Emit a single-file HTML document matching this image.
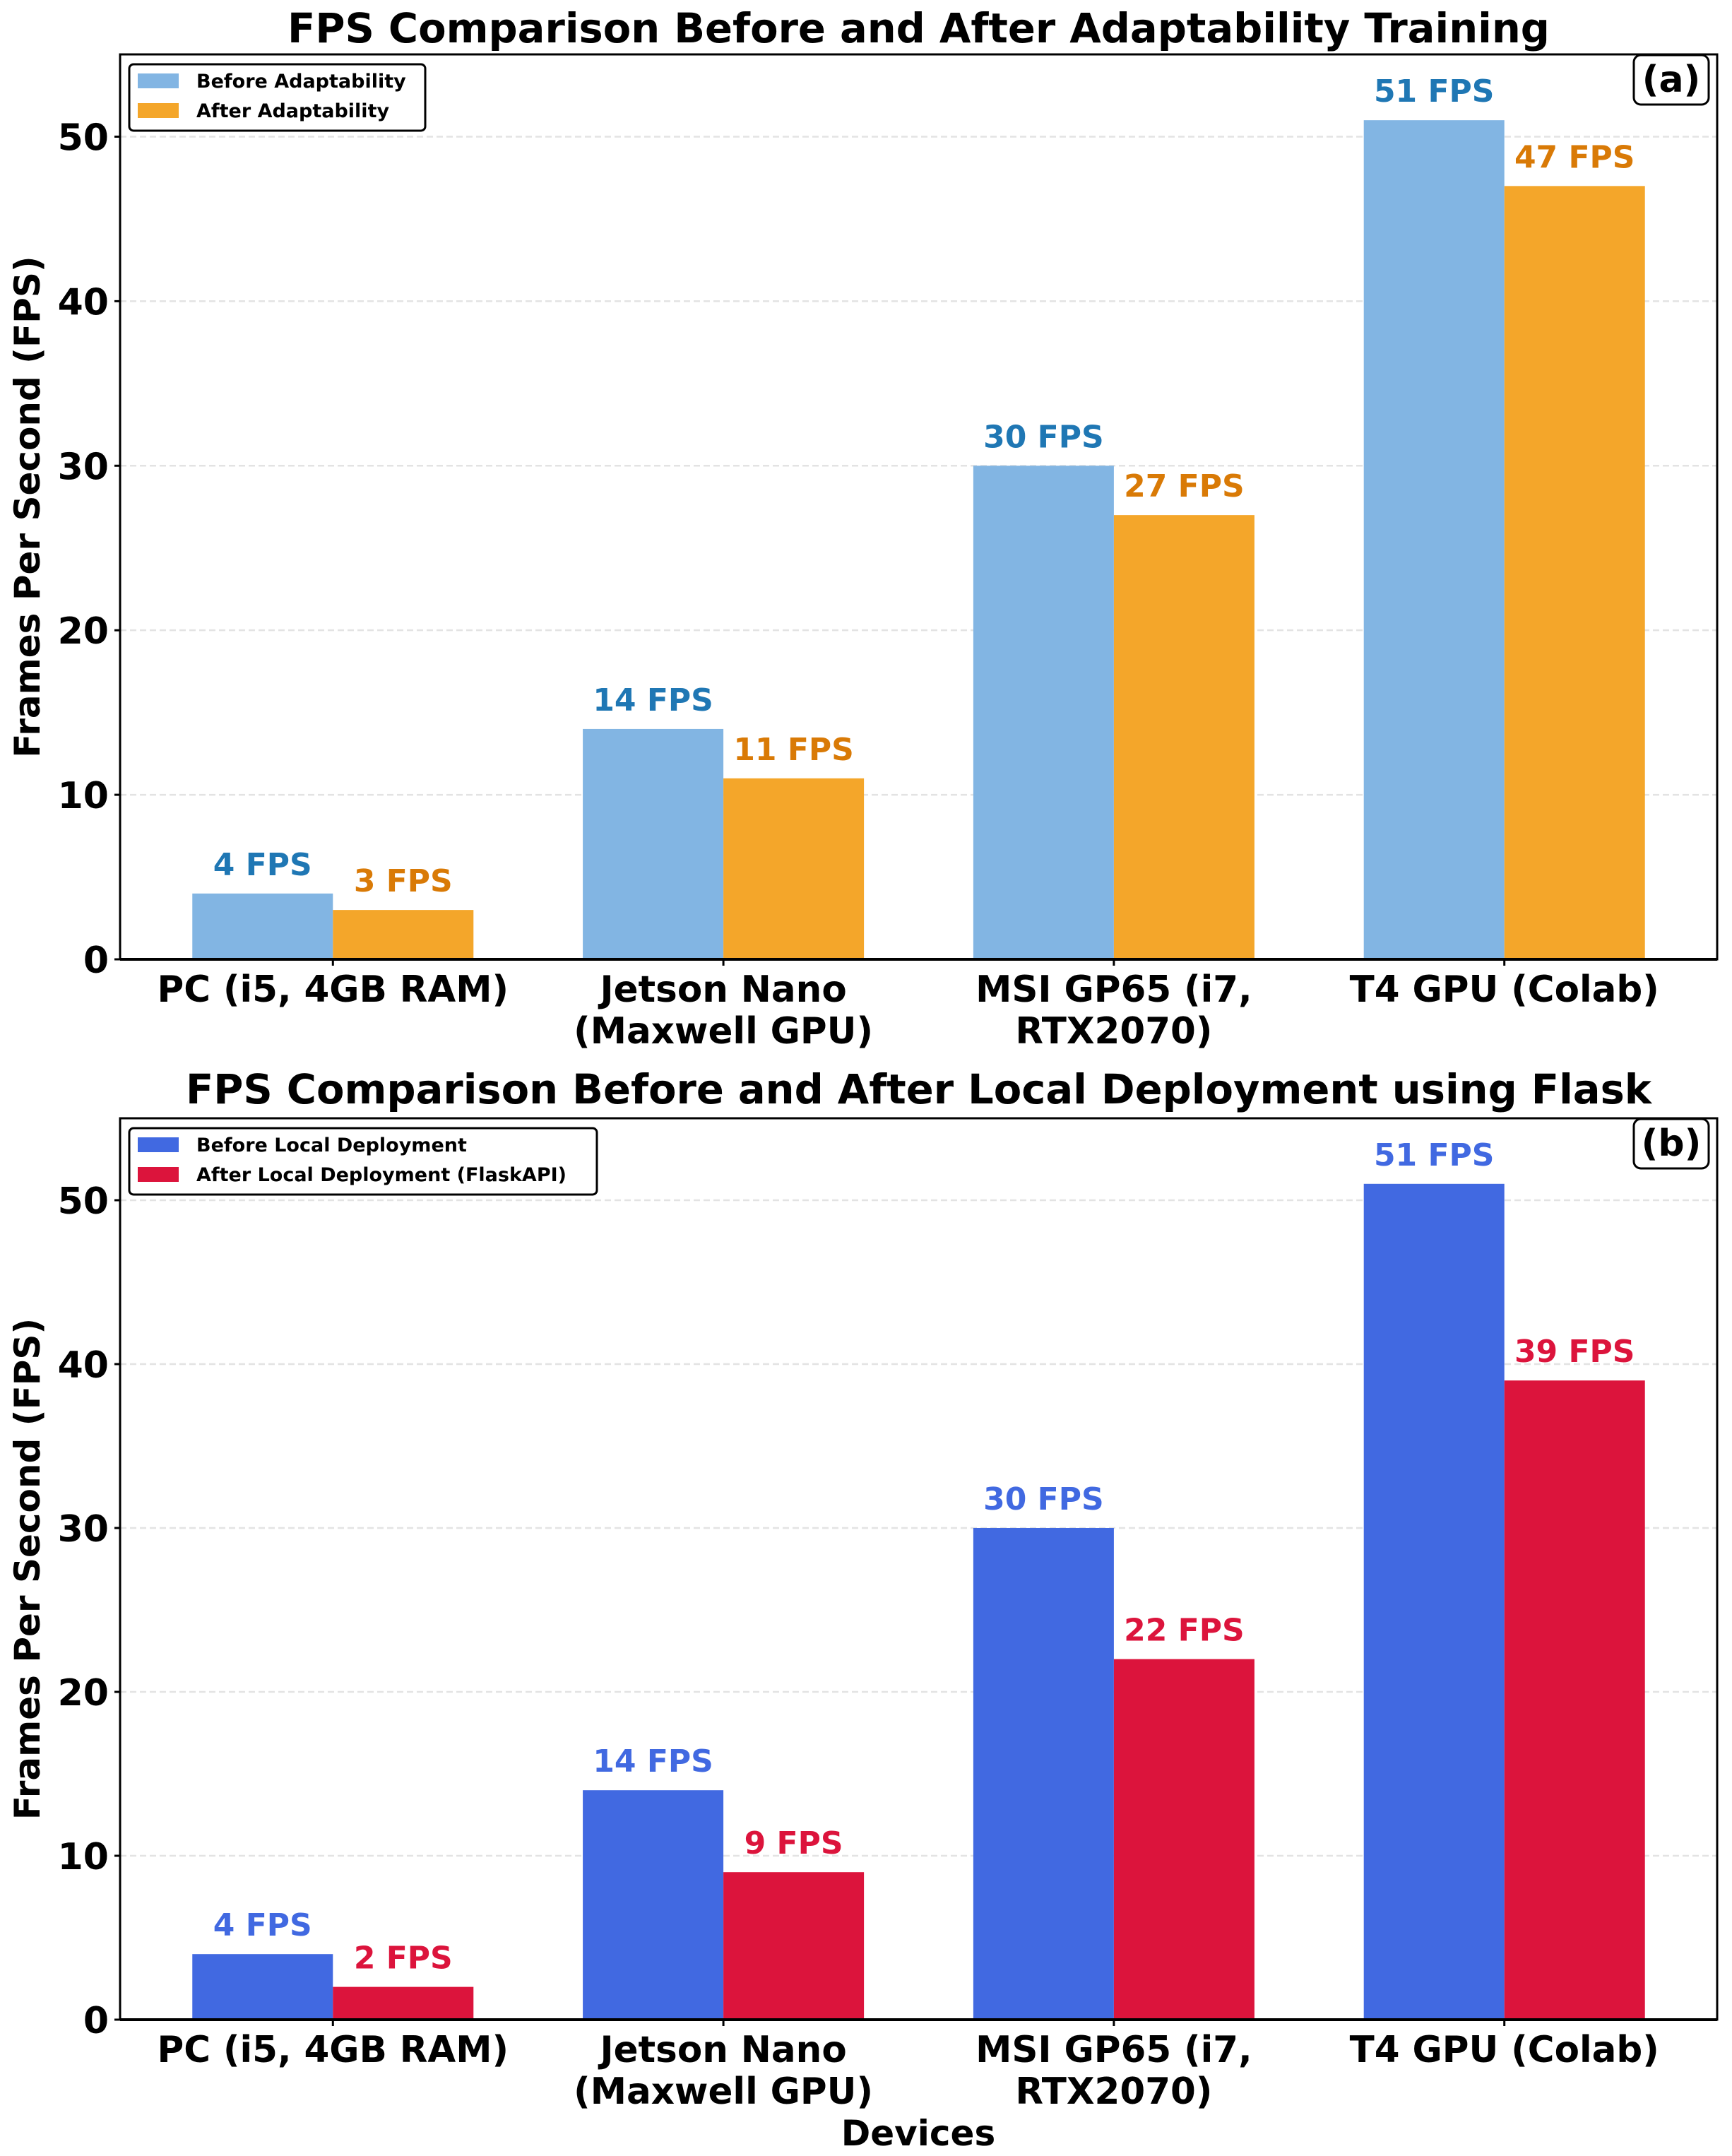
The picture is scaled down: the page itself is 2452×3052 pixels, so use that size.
<!DOCTYPE html>
<html><head><meta charset="utf-8"><style>
html,body{margin:0;padding:0;background:#fff;}
svg{display:block;font-family:"DejaVu Sans","Liberation Sans",sans-serif;font-weight:bold;}
</style></head><body>
<svg id="chart" width="2452" height="3052" viewBox="0 0 2452 3052" xmlns="http://www.w3.org/2000/svg"></svg>
<script>
const categories = [["PC (i5, 4GB RAM)"], ["Jetson Nano", "(Maxwell GPU)"], ["MSI GP65 (i7,", "RTX2070)"], ["T4 GPU (Colab)"]];
const beforeAdapt = [4, 14, 30, 51];
const afterAdapt = [3, 11, 27, 47];
const beforeLocal = [4, 14, 30, 51];
const afterLocal = [2, 9, 22, 39];
const yTicks = [0, 10, 20, 30, 40, 50];
const seriesNamesA = ["Before Adaptability", "After Adaptability"];
const seriesNamesB = ["Before Local Deployment", "After Local Deployment (FlaskAPI)"];

const NS = "http://www.w3.org/2000/svg";
const svg = document.getElementById('chart');
function mk(tag, attrs, parent, text) {
  const e = document.createElementNS(NS, tag);
  for (const k in attrs) e.setAttribute(k, attrs[k]);
  if (text !== undefined) e.textContent = text;
  (parent || svg).appendChild(e);
  return e;
}

const L = 170, R = 2431, XMIN = -0.545, XMAX = 3.545, YMAX = 55, BW = 0.36;

function panel(cfg) {
  const g = mk('g', {});
  
  
  const T = cfg.top, B = cfg.bottom;
  const xs = v => L + (v - XMIN) / (XMAX - XMIN) * (R - L);
  const ys = v => B - v / YMAX * (B - T);
  const t = mk('text', {x: (L + R) / 2, y: cfg.titleY, 'font-size': 57.5, 'text-anchor': 'middle', fill: '#000'}, g, cfg.title);
  
  
  yTicks.forEach(v => {
    if (v === 0) return;
    const gl = mk('line', {x1: L, x2: R, y1: ys(v), y2: ys(v), stroke: '#e3e3e3', 'stroke-width': 2.5, 'stroke-dasharray': '9,5'}, g);
    
    
  });
  const series = [cfg.before, cfg.after];
  series.forEach((vals, s) => {
    vals.forEach((v, i) => {
      const x0 = xs(i + (s === 0 ? -BW : 0));
      const x1 = xs(i + (s === 0 ? 0 : BW));
      const r = mk('rect', {x: x0, y: ys(v), width: x1 - x0, height: ys(0) - ys(v), fill: cfg.colors[s]}, g);
      
      
      const lb = mk('text', {x: (x0 + x1) / 2, y: ys(v) - 26, 'font-size': 44, 'text-anchor': 'middle', fill: cfg.labelColors[s]}, g, v + ' FPS');
      
      
    });
  });
  const sp = mk('rect', {x: L, y: T, width: R - L, height: B - T, fill: 'none', stroke: '#000', 'stroke-width': 3}, g);
  
  
  mk('line', {x1: L, x2: R, y1: B, y2: B, stroke: '#000', 'stroke-width': 4}, g);
  yTicks.forEach(v => {
    mk('line', {x1: L - 8, x2: L, y1: ys(v), y2: ys(v), stroke: '#000', 'stroke-width': 3}, g);
    const tl = mk('text', {x: L - 16, y: ys(v) + 19, 'font-size': 52, 'text-anchor': 'end', fill: '#000'}, g, v);
    
    
  });
  categories.forEach((c, i) => {
    mk('line', {x1: xs(i), x2: xs(i), y1: B, y2: B + 9, stroke: '#000', 'stroke-width': 3}, g);
    c.forEach((line, j) => {
      const tl = mk('text', {x: xs(i), y: B + 60 + j * 59, 'font-size': 51.5, 'text-anchor': 'middle', fill: '#000'}, g, line);
      
      
    });
  });
  const yl = mk('text', {x: 0, y: 0, 'font-size': 50, 'text-anchor': 'middle', fill: '#000', transform: `translate(56,${(T + B) / 2}) rotate(-90)`}, g, 'Frames Per Second (FPS)');
  
  
  const lg = mk('g', {}, g);
  
  
  mk('rect', {x: 183, y: T + 14, width: cfg.legendW, height: 94, rx: 6, fill: '#fff', stroke: '#000', 'stroke-width': 3}, lg);
  cfg.names.forEach((n, s) => {
    const e = mk('g', {}, lg);
    
    
    mk('rect', {x: 195, y: T + 27 + s * 42, width: 58, height: 21, fill: cfg.colors[s]}, e);
    mk('text', {x: 278, y: T + 47 + s * 42, 'font-size': 27, fill: '#000'}, e, n);
  });
  const pt = mk('g', {}, g);
  
  
  mk('rect', {x: 2313, y: T + 1, width: 106, height: 70, rx: 10, fill: '#fff', stroke: '#000', 'stroke-width': 3}, pt);
  mk('text', {x: 2366, y: T + 53, 'font-size': 52, 'text-anchor': 'middle', fill: '#000'}, pt, cfg.tag);
}

panel({name: 'panel-a', top: 77, bottom: 1358, titleY: 60, title: 'FPS Comparison Before and After Adaptability Training',
  before: beforeAdapt, after: afterAdapt, colors: ['#82b5e3', '#f4a62a'], labelColors: ['#1f77b4', '#d97a06'],
  names: seriesNamesA, legendW: 419, tag: '(a)'});
panel({name: 'panel-b', top: 1583, bottom: 2859, titleY: 1562, title: 'FPS Comparison Before and After Local Deployment using Flask',
  before: beforeLocal, after: afterLocal, colors: ['#4169e1', '#dc143c'], labelColors: ['#4169e1', '#dc143c'],
  names: seriesNamesB, legendW: 662, tag: '(b)'});

const xt = mk('text', {x: 1300, y: 3037, 'font-size': 50, 'text-anchor': 'middle', fill: '#000'}, svg, 'Devices');


</script>
</body></html>
